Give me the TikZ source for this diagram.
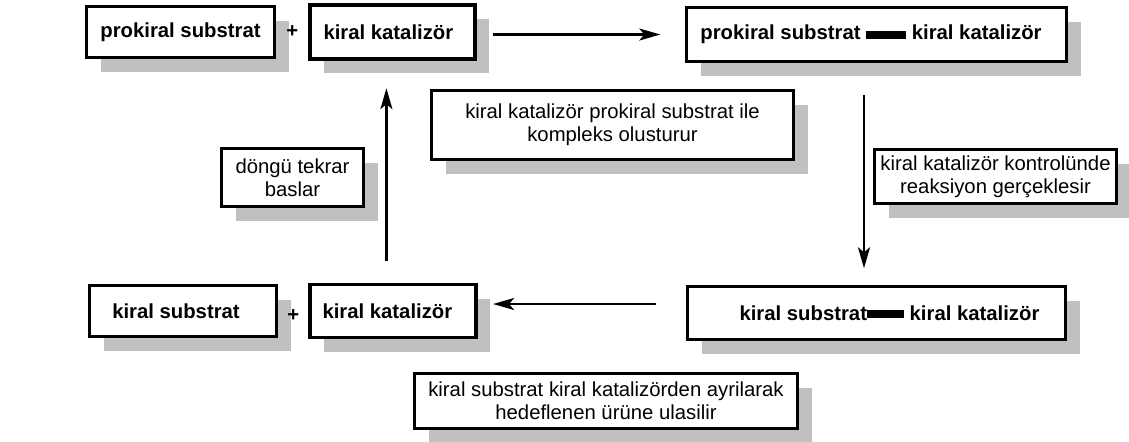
\documentclass[tikz,border=0pt]{standalone}
\usepackage{fontspec}
\setmainfont{Liberation Sans}
\usepackage{tikz}
\usepackage{xcolor}
\usetikzlibrary{arrows.meta,positioning,calc,shadows}
\definecolor{Ink}{HTML}{000000}
\definecolor{Shade}{HTML}{C0C0C0}
\newcommand{\bondbar}[2][1pt]{\rule[#1]{#2}{4pt}}
\tikzset{
  box/.style={draw=Ink,fill=white,line width=1.7pt,align=center,font=\fontsize{10.15}{11.5}\selectfont\bfseries,text=Ink,inner sep=0pt,drop shadow={shadow xshift=7pt,shadow yshift=-7pt,fill=Shade,draw=none,opacity=1}},
  note/.style={box,font=\fontsize{10.15}{11.5}\selectfont},
  plus/.style={font=\fontsize{10.15}{11.5}\selectfont\bfseries,text=Ink,inner sep=0pt},
  arr/.style={-{Stealth[length=10.5pt,width=6pt,inset=2.5pt]},draw=Ink,line width=1.1pt}
}
\begin{document}
\begin{tikzpicture}[x=0.5pt,y=-0.5pt]
  \useasboundingbox (0,0) rectangle (1129,441);
  % top row
  \node[box,minimum width=94pt,minimum height=25.5pt] (ps) at (180.5,32) {prokiral substrat};
  \node[box,minimum width=82.5pt,minimum height=27pt,right=16pt of ps] (kt) {kiral katalizör\hspace*{4pt}};
  \node[plus] (p1) at ($(ps.east)!0.5!(kt.west)$) {+};
  \node[box,minimum width=190pt,minimum height=27pt] (pc) at (876.5,34.5) {prokiral substrat \bondbar[0.25pt]{20pt} kiral katalizör\hspace*{5.5pt}};
  % notes
  \node[note,minimum width=181pt,minimum height=34.5pt] (nc) at (612.5,125) {kiral katalizör prokiral substrat ile\\kompleks olusturur};
  \node[note,minimum width=71pt,minimum height=29pt] (nd) at (292.5,177.5) {döngü tekrar\\baslar};
  \node[note,minimum width=121pt,minimum height=27pt] (nr) at (995.5,176.5) {kiral katalizör kontrolünde\\reaksiyon gerçeklesir};
  % bottom row
  \node[box,minimum width=93.5pt,minimum height=25.5pt] (ks) at (183,311) {kiral substrat\hspace*{7pt}};
  \node[box,minimum width=83pt,minimum height=26.5pt,right=15pt of ks] (kb) {kiral katalizör\hspace*{5.5pt}};
  \node[plus] (p2) at ([yshift=-2.5pt]$(ks.east)!0.5!(kb.west)$) {+};
  \node[box,minimum width=189pt,minimum height=26.5pt] (kc) at (876.5,313) {\hspace*{13pt}kiral substrat\bondbar[1.25pt]{18.5pt} kiral katalizör};
  \node[note,minimum width=191.5pt,minimum height=27.5pt] (na) at (606,401) {kiral substrat kiral katalizörden ayrilarak\\hedeflenen ürüne ulasilir};
  % cycle
  \draw[arr,shorten <=8.25pt,shorten >=12.25pt] (kt.east |- pc.west) -- (pc.west);
  \draw[arr,shorten <=15.75pt,shorten >=8.25pt] ([xshift=-6.25pt]pc.south) -- ([xshift=-6.25pt]kc.north);
  \draw[arr,shorten <=14.75pt,shorten >=7.75pt] ([yshift=4.5pt]kc.west) -- ([yshift=4.5pt]kc.west -| kb.east);
  \draw[arr,shorten <=10.75pt,shorten >=13.75pt] ([xshift=-3.25pt]kb.north) -- ([xshift=-3.25pt]kb.north |- kt.south);
\end{tikzpicture}
\end{document}
